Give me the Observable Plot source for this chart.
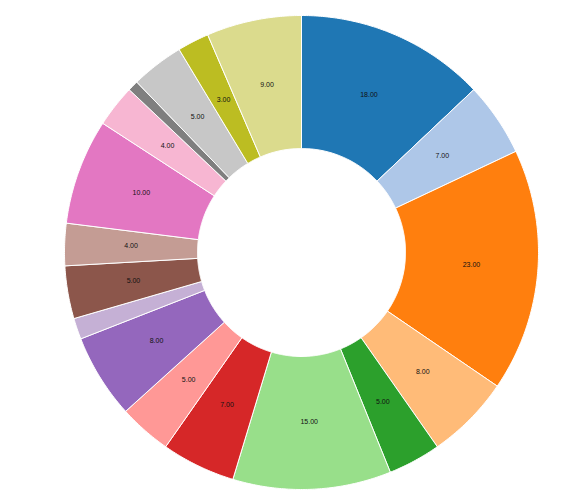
<!DOCTYPE html>
<html>
<head>
<meta charset="utf-8">
<script src="https://cdn.jsdelivr.net/npm/d3@7"></script>
<script src="https://cdn.jsdelivr.net/npm/@observablehq/plot@0.6"></script>
<style>
  html, body { margin: 0; padding: 0; background: #fff; }
  #chart svg { display: block; }
</style>
</head>
<body>
<div id="chart"></div>
<script>
// Data, clockwise from 12 o'clock
const categories = ["S1","S2","S3","S4","S5","S6","S7","S8","S9","S10","S11","S12","S13","S14","S15","S16","S17","S18"];
const values = [18, 7, 23, 8, 5, 15, 7, 5, 8, 2, 5, 4, 10, 4, 1, 5, 3, 9];
const labels = ["18.00","7.00","23.00","8.00","5.00","15.00","7.00","5.00","8.00","","5.00","4.00","10.00","4.00","","5.00","3.00","9.00"];
const colors = ["#1f77b4","#aec7e8","#ff7f0e","#ffbb78","#2ca02c","#98df8a","#d62728","#ff9896","#9467bd","#c5b0d5","#8c564b","#c49c94","#e377c2","#f7b6d2","#7f7f7f","#c7c7c7","#bcbd22","#dbdb8d"];

// Layout
const W = 565, H = 499;
const cx = 301, cy = 252, R = 237;   // pixel centre and outer radius
const inner = 104 / 237;             // inner radius relative to outer
const labelR = (1 + inner) / 2;

const pie = d3.pie().sort(null).value(d => d.value);
const arcs = pie(categories.map((c, i) => ({cat: c, value: values[i], label: labels[i]})));

// polygon vertices of each ring sector in unit coordinates (y up)
const pts = [];
for (const a of arcs) {
  const a0 = a.startAngle, a1 = a.endAngle;
  const n = Math.max(2, Math.ceil((a1 - a0) / 0.01));
  for (let k = 0; k <= n; k++) {
    const t = a0 + (a1 - a0) * k / n;
    pts.push({cat: a.data.cat, x: Math.sin(t), y: Math.cos(t)});
  }
  for (let k = n; k >= 0; k--) {
    const t = a0 + (a1 - a0) * k / n;
    pts.push({cat: a.data.cat, x: inner * Math.sin(t), y: inner * Math.cos(t)});
  }
  pts.push({cat: a.data.cat, x: Math.sin(a0), y: Math.cos(a0)});
}

const labelPts = arcs.map(a => {
  const m = (a.startAngle + a.endAngle) / 2;
  return {label: a.data.label, x: labelR * Math.sin(m), y: labelR * Math.cos(m)};
});

const chart = Plot.plot({
  width: W,
  height: H,
  margin: 0,
  style: {background: "#fff", overflow: "visible"},
  x: {domain: [-cx / R, (W - cx) / R], axis: null},
  y: {domain: [-(H - cy) / R, cy / R], axis: null},
  color: {type: "ordinal", domain: categories, range: colors},
  marks: [
    Plot.line(pts, {x: "x", y: "y", z: "cat", fill: "cat", stroke: "white", strokeWidth: 1, strokeLinejoin: "round", curve: "linear"}),
    Plot.text(labelPts, {x: "x", y: "y", dy: -1, text: "label", fill: "#111", fontSize: 7, fontFamily: "Liberation Sans, Arial, sans-serif"})
  ]
});
document.getElementById("chart").append(chart);
</script>
</body>
</html>
